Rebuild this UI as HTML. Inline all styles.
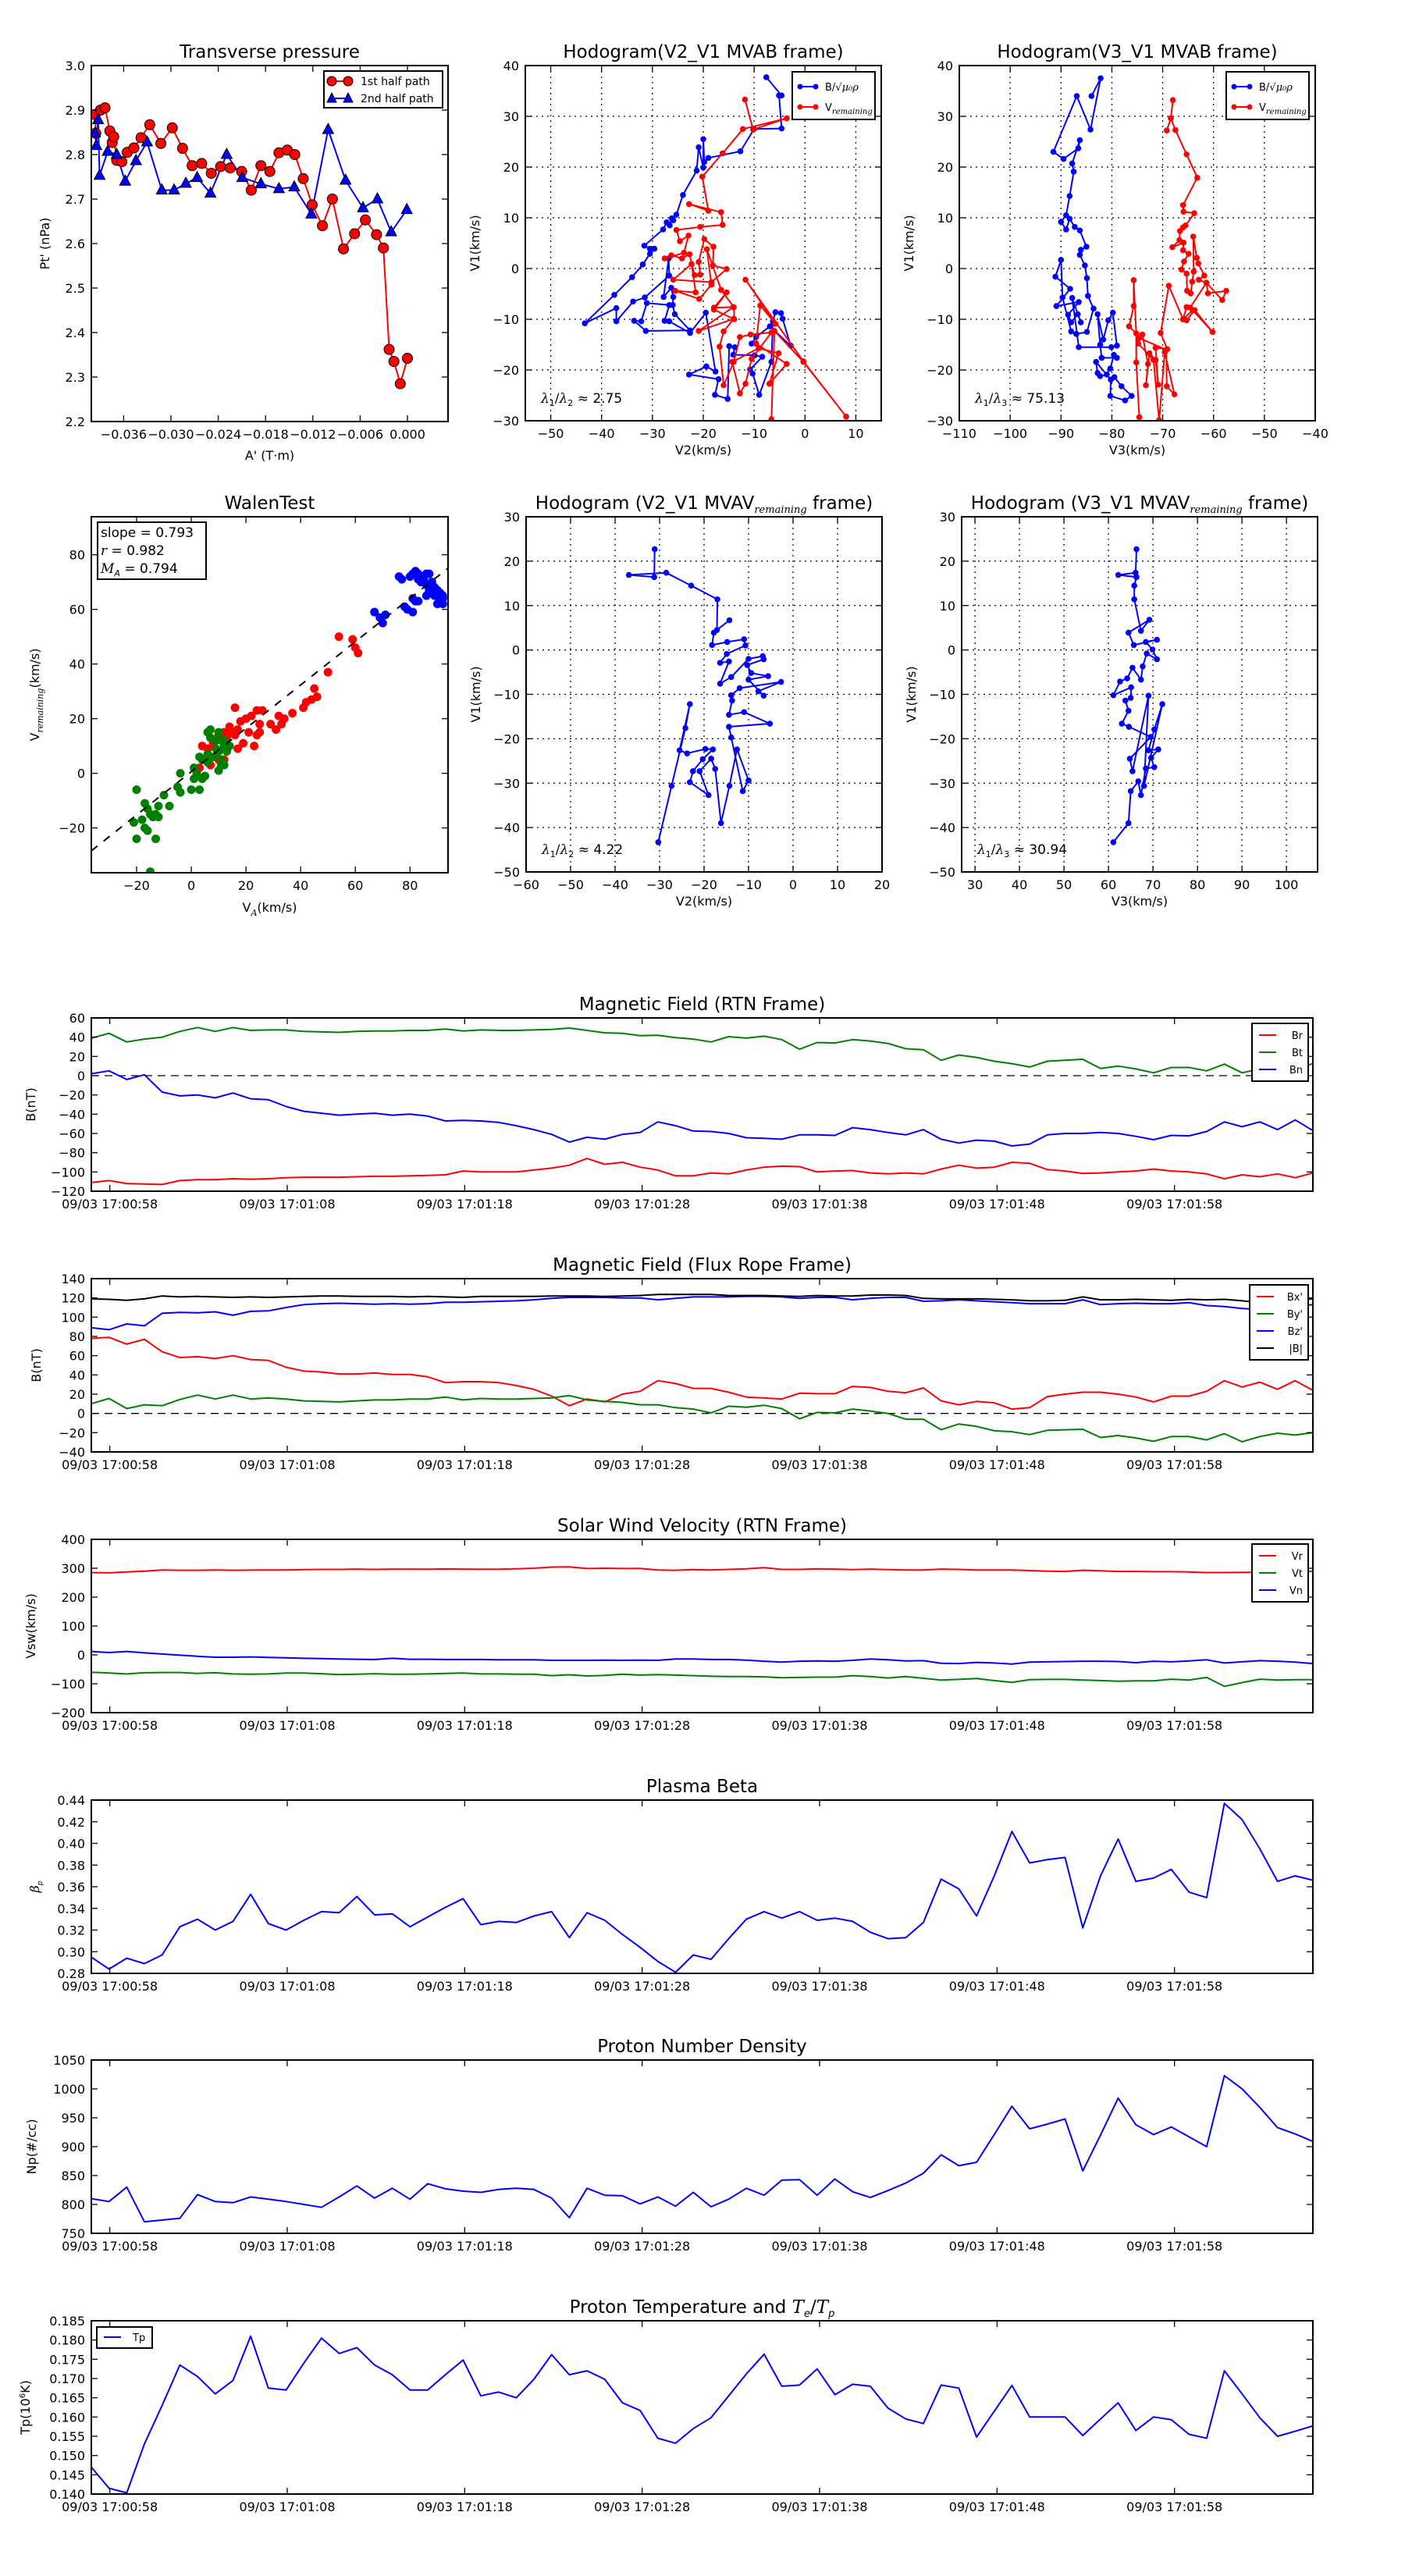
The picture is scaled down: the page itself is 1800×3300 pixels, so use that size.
<!DOCTYPE html>
<html><head><meta charset="utf-8"><title>Flux rope analysis</title>
<style>
html,body{margin:0;padding:0;background:#fff;}
svg{display:block;font-family:"DejaVu Sans","Liberation Sans",sans-serif;}
</style></head>
<body>
<svg id="figure" xmlns="http://www.w3.org/2000/svg" width="1800" height="3300" viewBox="0 0 1800 3300">
<rect x="0" y="0" width="1800" height="3300" fill="#fff"/>
</svg>
<script>
// ---------------- DATA ----------------
// Transverse pressure
const tpRedA=[-0.03954,-0.03962,-0.03893,-0.03836,-0.03775,-0.03745,-0.03726,-0.03688,-0.03623,-0.03554,-0.03470,-0.03379,-0.03269,-0.03128,-0.02983,-0.02853,-0.02731,-0.02610,-0.02488,-0.02370,-0.02248,-0.02103,-0.01981,-0.01859,-0.01745,-0.01630,-0.01524,-0.01429,-0.01322,-0.01208,-0.01078,-0.00952,-0.00811,-0.00670,-0.00533,-0.00392,-0.00305,-0.00232,-0.00171,-0.00091,0.0];
const tpRedP=[2.848,2.890,2.900,2.905,2.853,2.827,2.840,2.787,2.784,2.805,2.815,2.838,2.867,2.825,2.860,2.814,2.775,2.780,2.758,2.773,2.770,2.762,2.720,2.775,2.762,2.804,2.810,2.800,2.746,2.687,2.640,2.700,2.588,2.622,2.653,2.620,2.590,2.362,2.335,2.285,2.342];
const tpBlueA=[-0.03962,-0.03947,-0.03924,-0.03905,-0.03802,-0.03688,-0.03581,-0.03444,-0.03303,-0.03116,-0.02960,-0.02811,-0.02667,-0.02499,-0.02293,-0.02095,-0.01859,-0.01630,-0.01436,-0.01219,-0.01006,-0.00785,-0.00564,-0.00381,-0.00206,-0.00008];
const tpBlueP=[2.848,2.820,2.878,2.753,2.807,2.800,2.740,2.786,2.828,2.720,2.720,2.735,2.748,2.713,2.800,2.748,2.734,2.723,2.727,2.666,2.856,2.742,2.680,2.700,2.626,2.676];

// Hodogram V2_V1 MVAB
const h1Blue=[[-7.6,37.7],[-4.6,34.1],[-5.1,34.1],[-4.6,27.6],[-10,27.5],[-12.7,23.1],[-19,21.8],[-19.8,21],[-20,25.5],[-20,19.9],[-20.9,23.9],[-21.3,19.3],[-24,14.5],[-25.3,10.6],[-25.9,9.5],[-26.2,9.9],[-26.6,8.5],[-27.2,9.1],[-27.9,7.7],[-31.6,4.5],[-30.5,3.9],[-29.6,3.9],[-30.5,2.9],[-31.9,0.8],[-34,-1.7],[-37.5,-5.2],[-43.3,-10.8],[-37.1,-7.8],[-37.1,-10.4],[-33.8,-6.5],[-31.5,-5.7],[-26.7,-1.4],[-26.8,2],[-27.8,-5.6],[-26.3,-3.8],[-25.9,-5.6],[-26,-7.2],[-25.6,-9],[-22.6,-12.2],[-31.3,-12.3],[-33.6,-10.3],[-32.2,-10.4],[-31.1,-6.8],[-26.7,-7.2],[-27.6,-10.3],[-26.7,-10.4],[-22.6,-12.7],[-19.5,-8.7],[-17.6,-20.3],[-19.4,-19.3],[-22.8,-20.9],[-17,-21.8],[-17.7,-24.9],[-15.2,-25.7],[-14.9,-15.3],[-13.8,-15.5],[-14.1,-17],[-9.9,-17.1],[-8.4,-17.4],[-10.8,-19.9],[-10.3,-20.7],[-9,-24.9],[-6.6,-18.4],[-6.3,-10.4],[-5.8,-8.6],[-4.7,-8.8],[-4.4,-9.9],[-2.8,-15.2],[-6.9,-11.4],[-9.6,-13.5],[-10.5,-14.8]];
const h1Red=[[-11.8,33.3],[-10.2,27.4],[-3.6,29.6],[-12.2,27.5],[-16.2,22.7],[-20.2,18.1],[-19,11.4],[-22.8,12.7],[-16.5,11.1],[-16.2,8.6],[-20.6,8.2],[-25.3,7.6],[-24.6,5.4],[-22.9,6.5],[-23.8,3.1],[-27.6,2],[-26.3,2.6],[-24.2,2],[-22.7,2.8],[-21.7,-1.3],[-20.6,-1.2],[-20.9,1.3],[-19.8,5.8],[-18,4.3],[-18.1,0.6],[-15.4,-0.1],[-18.4,-2.7],[-25.9,-2.2],[-22.3,0.9],[-21.5,-4.7],[-25.5,-4.4],[-20.8,-6],[-18.4,-3.2],[-19.3,3.8],[-16.5,-4.2],[-14,-7.6],[-13.9,-10],[-17.9,-8.1],[-15.4,-4.7],[-17.9,-7.7],[-14.1,-7.6],[-20.9,-12.3],[-14,-9.9],[-16,-12.4],[-16.8,-15.4],[-16,-23],[-14,-18.4],[-12.8,-13.5],[-10.7,-13],[-6.6,-12.6],[-10.5,-17.8],[-11.7,-22.7],[-12.8,-24.6],[-14.3,-18.4],[-9.1,-15.7],[-5.2,-16.7],[-7,-22.7],[-3.6,-18.8],[-9.6,-14.8],[-8.8,-7.3],[-5.8,-10.9],[-11.7,-2.2],[-0.3,-18.3],[8.1,-29.2],[-0.3,-18.4],[-6,-12.3],[-6.6,-29.7]];

// Hodogram V3_V1 MVAB
const h2Blue=[[-84,34],[-82.2,37.5],[-84.2,27.4],[-86.9,34],[-91.5,23],[-89.5,21.6],[-86.6,23.7],[-86.3,25.3],[-87.8,20.7],[-87.5,19.1],[-88.3,14.3],[-89,10.5],[-90,9.2],[-89,7.7],[-88.3,9.8],[-87.3,8.2],[-86.3,7.5],[-85,4.3],[-86.1,3.7],[-86.3,2.7],[-85.3,0.6],[-84.9,-1.9],[-84.7,-5.4],[-83.6,-7.9],[-84.9,-12.5],[-87,-12.9],[-88,-12.4],[-89.7,-5.7],[-90,1.7],[-91.1,-1.6],[-88.2,-4],[-90.9,-7.4],[-86.5,-6.6],[-88.6,-9.1],[-88,-10.6],[-86.7,-9],[-86.1,-10.6],[-87.8,-5.8],[-86.5,-15.5],[-80.1,-15.5],[-79,-15.2],[-79.8,-8.7],[-80.7,-10.2],[-81.7,-14],[-82.8,-9],[-82.3,-15],[-82,-17.6],[-79,-17.6],[-79.6,-17],[-80.3,-19.7],[-81,-20.9],[-82.3,-21.2],[-82.8,-20.6],[-83.1,-18.4],[-80.2,-21.9],[-80.3,-25.1],[-77.4,-26],[-76.1,-25.1],[-78.1,-23.2],[-79.5,-21.4]];
const h2Red=[[-68,33.2],[-68.4,29.6],[-69.2,27.2],[-68.4,29.6],[-67.5,27.3],[-65.3,22.5],[-63.2,17.9],[-66,12.5],[-65.9,11.2],[-63.8,10.9],[-65.5,8.5],[-66,8.1],[-66.6,7.4],[-66.7,5.6],[-68.1,4.2],[-65.9,5.1],[-66,3.6],[-64.9,2.9],[-65.8,1.4],[-66.3,-0.2],[-65.3,-1],[-65.2,-4.4],[-64.5,-4.9],[-64.2,-2.6],[-63.9,-0.6],[-64,6.3],[-63.3,2.1],[-63,1],[-61.8,-1.4],[-62.9,-2.2],[-61.4,-2.8],[-61.1,-4.9],[-57.5,-4.4],[-58.3,-6.2],[-61.4,-2.8],[-64.6,-7.7],[-65.3,-7.6],[-66,-10],[-65.3,-10.2],[-63.7,-8.2],[-60.2,-12.5],[-64.1,-8.2],[-66,-10],[-68.8,-3.4],[-70.4,-12.7],[-69.1,-15.9],[-71.4,-15.6],[-70.9,-22.9],[-71.4,-18],[-72.6,-16.7],[-73.3,-23],[-72.9,-18.8],[-74,-13],[-74.6,-13.7],[-69.3,-16],[-69.2,-23.2],[-67.7,-24.8],[-69.6,-16.5],[-70.7,-29.9],[-71.8,-18],[-74.8,-14.8],[-75.2,-12.8],[-76.6,-11.4],[-75.7,-7.4],[-75.7,-2.3],[-75.2,-12.8],[-75.2,-18.5],[-74.6,-29.3]];

// Walen test
const walenBlue=[[80,72],[81,73],[82,74],[83,73],[84,72],[85,72],[86,73],[83,71],[84,70],[85,71],[88,70],[89,68],[90,67],[91,66],[92,65],[87,67],[88,66],[86,65],[89,65],[91,63],[92,64],[90,62],[92,62],[81,64],[82,63],[79,60],[81,59],[83,63],[77,71],[67,59],[71,58],[69,57],[70,55],[78,61],[86,69],[76,72],[87,73]];
const walenRed=[[54,50],[59,49],[60,46],[61,44],[50,37],[45,31],[46,28],[44,27],[42,26],[41,24],[37,22],[32,21],[34,20],[33,18],[31,16],[29,18],[26,23],[24,23],[22,21],[20,20],[18,19],[16,24],[17,16],[16,14],[14,17],[12,15],[10,14],[11,12],[8,11],[4,10],[6,9],[10,5],[12,5],[7,3],[3,2],[17,9],[19,11],[21,15],[23,10],[25,18],[25,15],[24,14],[15,15],[13,13]];
const walenGreen=[[-20,-6],[-17,-11],[-16,-13],[-15,-15],[-18,-17],[-12,-12],[-12,-16],[-14,-16],[-10,-8],[-8,-12],[-5,-5],[-4,-7],[-4,0],[-0,-6],[1,-2],[1,2],[3,-6],[4,-2],[5,-1],[3,6],[4,5],[6,7],[6,15],[7,16],[7,13],[9,12],[10,15],[11,12],[12,10],[10,8],[8,6],[6,4],[11,3],[10,1],[12,3],[14,10],[13,8],[-21,-18],[-20,-24],[-17,-20],[-16,-21],[-13,-24],[-15,-36],[-13,-15],[9,9],[12,12],[11,5],[2,0]];
const walenSlope=0.793;
const walenIntercept=0.6;

// Hodogram V2_V1 MVAV
const h3Blue=[[-30.3,-43.3],[-27.3,-30.6],[-24.2,-17.6],[-23.2,-12.2],[-25.5,-22.6],[-23.8,-23.3],[-19.7,-22.3],[-18,-22.4],[-20.3,-24.6],[-22.5,-27.3],[-23.2,-29.8],[-19,-32.7],[-21,-27.3],[-18.4,-24.5],[-17.5,-26.8],[-16.2,-39],[-14.3,-30.6],[-12.6,-22.4],[-10,-29.4],[-11.3,-31.8],[-13.9,-19.7],[-14.4,-17.3],[-5.2,-16.6],[-11,-14],[-14.4,-14.6],[-13.7,-11.4],[-13.9,-10.2],[-12,-8.6],[-2.7,-7.2],[-7.8,-9.3],[-6.6,-10.3],[-10,-6.7],[-5.6,-5.9],[-9.4,-5.2],[-10.3,-3.4],[-6.6,-2.1],[-6.8,-1.4],[-10,-2],[-13.9,-6.1],[-16.4,-7.6],[-14.4,-2.6],[-16.4,-2.9],[-14.9,-0.9],[-10.7,1],[-11,2.4],[-14.8,1.8],[-18.2,1.1],[-17.8,3.9],[-14.3,6.7],[-17.1,4.5],[-17,11.4],[-22.9,14.5],[-28.5,17.4],[-36.9,16.9],[-31.2,16.4],[-31.1,22.7]];
// Hodogram V3_V1 MVAV
const h4Blue=[[61.1,-43.3],[64.5,-39],[65,-31.8],[66.7,-29.6],[67.3,-32.7],[68.4,-26.7],[70.3,-26.4],[69.6,-24.3],[71.2,-22.4],[69,-22.6],[70.3,-17.9],[72.1,-12.2],[68,-30.6],[69,-10.3],[65.4,-27.3],[64.8,-24.5],[69.5,-19.6],[64.6,-17.3],[63,-16.6],[64.5,-13.7],[63.8,-11.4],[65,-10.8],[65.1,-8.4],[61.1,-10.2],[62.6,-7.1],[64.2,-6.4],[65.4,-4],[67.3,-6.7],[67.7,-3.7],[68.6,-0.8],[70.9,-2.1],[69.9,0.1],[68.4,1.8],[70.9,2.3],[65.7,1.1],[64.5,3.9],[69.2,6.8],[67.3,4.3],[65.8,11.4],[65.8,14.5],[66.3,16.4],[62.2,16.9],[66.1,17.4],[66.3,22.7]];

// Time series (1 s cadence, 70 samples)
const tickLabels=["09/03 17:00:58","09/03 17:01:08","09/03 17:01:18","09/03 17:01:28","09/03 17:01:38","09/03 17:01:48","09/03 17:01:58"];
const tickSeconds=[0,10,20,30,40,50,60];
const Br=[-111,-109,-112,-112.5,-113,-109,-108,-108,-107,-107.5,-107,-106,-105.5,-105.5,-105.5,-105,-104.5,-104.5,-104,-103.5,-103,-99,-100,-100,-100,-98,-96,-93,-86,-92,-90,-95,-98,-104,-104,-101,-102,-98,-95,-94,-94.5,-100,-99,-98.5,-101,-102,-101,-102,-97,-93,-96,-95,-90,-91,-97.5,-99,-101.5,-101,-100,-99,-97,-99,-100,-102,-107,-103,-105,-102,-106,-101];
const Bt=[39,44,35,38,40,46,50,46,50,47,47.5,47.5,46,45.5,45,46,46.5,46.5,47,47,48.5,46.5,47.5,47,47,47.5,48,49.5,47,44.5,44,41.5,42,39.5,38,35,40.5,39,41,37.5,27.5,34.5,34,37.5,36,33.5,28,27,16,21.5,19,15,12.5,9,15,16,17,7.5,10,7,3,8.5,8.5,5,12,3,7,10,4,13];
const Bn=[2,5,-4,1,-17,-21,-20,-23,-18,-24,-25,-32,-37,-39,-41,-40,-39,-41,-40,-42,-47,-46.5,-47,-48.5,-52,-56,-61,-69,-64,-66,-61,-59,-48,-52,-57.5,-58,-60,-64.5,-65,-66,-61.5,-61.5,-62,-54,-56,-59,-61.5,-56,-66,-70,-67,-68,-73,-71,-61.5,-60,-60,-59,-60,-63,-66.5,-62,-62.5,-58,-48,-53,-48,-56,-46,-57];
const Bx=[78,79,72,77,64,58,59,57,60,56,55,48,44,43,41,41,42,40.5,40.5,38,32,33,33,32,29,25,18,8,15,12,20,23,34,31,26,26,22,17,16,15,21,20.5,20.5,28,27,23,21.5,26.5,13,9,12.5,11,4.5,6,17.5,20,22,22,20,17,12,18,18,23,34,27.5,32.5,25,34,24];
const By=[10,15.5,5,9,8,14.5,19,15,19,15,16,15,13,12.5,12,13,14,14,15,15,17,14,15.5,15,15,15.5,16,18.5,14,12.5,11.5,9,9,6,4.5,0.5,7.5,6.5,8.5,5,-5.5,1,0.5,4.5,2.5,0,-6,-6,-17,-11,-13.5,-18,-19,-22,-17.5,-17,-16.5,-25,-23,-25.5,-29,-24,-24,-27.5,-21,-29.5,-24,-20.5,-22.5,-20];
const Bz=[89,87,93,91,104,105,104.5,105.5,102,106,106.5,110,113,114,114.5,114,113.5,114,113.5,114,115.5,115.5,116,116.5,117,118,119.5,120.5,120.5,120.5,120,120,118,119.5,121,121,121,121.5,121.5,121,119.5,120.5,120.5,118,119.5,120.5,120.5,116.5,117,118,117,116,115,114,114,114,118,113,114,114.5,114,114,115,112,111,109,108,110,111,113];
const Bmag=[119,118.5,117.5,119,122,121,121.5,121,120.5,121,120.5,121,121.5,122,122,121.5,121.5,121.5,121,121.5,121,120.5,121.5,121.5,121.5,121.5,122,122,122,121.5,122,122.5,123.5,123.5,123.5,123.5,122.5,122.5,122.5,122,121.5,122.5,122,122,123,123,122.5,119.5,119,119,119,118.5,118,117,117,117.5,121,118,118,118.5,118,117.5,118.5,118,118.5,117,115,117,118,119];
const Vr=[285,284,287,290,294,293,293,294,293,293.5,294,294,295,296,296,297,296,297,297,296.5,297.5,297,296.5,296.5,298,300,304,305,299,300,299,299.5,294,293,295,294,296,298,302,296,296,298,297,295,297,295,294,294,297,296,294,294,294,292,290,289,293,291,289,289,288,288,287,285,285,286,286,285,286,290];
const Vt=[-60,-63,-66,-62,-61,-61,-64,-62,-66,-67,-66,-63,-63,-65,-68,-67,-65,-67,-67,-66,-64,-63,-66,-66,-67,-67,-72,-69,-73,-71,-67,-70,-68,-70,-72,-74,-75,-75,-76,-79,-78,-77,-77,-72,-75,-80,-75,-81,-87,-85,-82,-89,-95,-86,-85,-85,-87,-89,-91,-90,-90,-84,-87,-78,-109,-96,-84,-87,-86,-86];
const Vn=[12,8,12,7,3,-1,-5,-8,-8,-7,-9,-10,-12,-13,-14,-15,-16,-12,-15,-15,-16,-16,-16,-17,-17,-17,-19,-19,-19,-18,-19,-18,-19,-14,-14,-16,-16,-18,-22,-25,-22,-21,-22,-19,-14,-17,-21,-20,-29,-30,-26,-28,-32,-25,-24,-23,-22,-22,-23,-27,-22,-24,-21,-17,-28,-24,-20,-22,-25,-30];
const beta=[0.295,0.284,0.294,0.289,0.297,0.323,0.330,0.320,0.328,0.353,0.326,0.320,0.329,0.337,0.336,0.351,0.334,0.335,0.323,0.332,0.341,0.349,0.325,0.328,0.327,0.333,0.337,0.313,0.336,0.329,0.316,0.304,0.291,0.281,0.297,0.293,0.312,0.330,0.337,0.331,0.337,0.329,0.331,0.328,0.318,0.312,0.313,0.327,0.367,0.358,0.333,0.370,0.411,0.382,0.385,0.387,0.322,0.370,0.404,0.365,0.368,0.376,0.355,0.350,0.437,0.422,0.395,0.365,0.370,0.366];
const Np=[810,805,830,770,773,776,817,805,803,813,809,805,800,795,813,832,811,828,809,836,827,823,821,826,828,826,811,777,828,816,815,801,813,797,821,796,809,828,816,842,843,816,844,822,812,824,837,854,886,867,873,921,970,931,939,948,858,920,984,938,921,934,917,900,1023,1000,968,933,922,909];
const Tp=[0.147,0.1415,0.1403,0.153,0.163,0.1735,0.1705,0.166,0.1695,0.181,0.1675,0.167,0.174,0.1805,0.1765,0.178,0.1735,0.171,0.167,0.167,0.171,0.1748,0.1655,0.1665,0.165,0.1698,0.1762,0.171,0.172,0.1698,0.1637,0.1617,0.1545,0.1532,0.157,0.1598,0.1655,0.1712,0.1763,0.168,0.1683,0.1725,0.1658,0.1685,0.168,0.1623,0.1595,0.1583,0.1683,0.1675,0.1548,0.1615,0.1682,0.160,0.160,0.160,0.1552,0.1595,0.1637,0.1565,0.160,0.1593,0.1555,0.1545,0.172,0.166,0.1598,0.155,0.1563,0.1577];
const tStart=-1.04, tStep=0.9977;

// ---------------- RENDERING ----------------
const NS='http://www.w3.org/2000/svg';
const svg=document.getElementById('figure');
function mk(tag,parent){const e=document.createElementNS(NS,tag);parent.appendChild(e);return e;}
function set(e,o){for(const k in o)e.setAttribute(k,o[k]);return e;}
function fmtNum(v,d){const s=Math.abs(v).toFixed(d);return (v<0?'\u2212':'')+s;}
let clipN=0;
function panel(name,x,y,w,h,xd,yd){
  const g=mk('g',svg);
  
  
  const id='clip'+(clipN++);
  const cp=mk('clipPath',g);cp.setAttribute('id',id);
  set(mk('rect',cp),{x:x,y:y,width:w,height:h});
  const grid=mk('g',g);
  
  
  const data=mk('g',g);data.setAttribute('clip-path','url(#'+id+')');
  
  
  const deco=mk('g',g);
  return {g,grid,data,deco,x,y,w,h,xd,yd,
    sx:v=>x+(v-xd[0])/(xd[1]-xd[0])*w,
    sy:v=>y+h-(v-yd[0])/(yd[1]-yd[0])*h};
}
function text(parent,str,x,y,size,anchor,extra){
  const t=mk('text',parent);
  set(t,{x:x,y:y,'font-size':size,'text-anchor':anchor||'middle',fill:'#000'});
  if(extra)set(t,extra);
  t.textContent=str;return t;
}
function frame(p){
  const r=mk('rect',p.deco);
  set(r,{x:p.x,y:p.y,width:p.w,height:p.h,fill:'none',stroke:'#000','stroke-width':2});
  
  
}
function xTicks(p,vals,labels,grid){
  vals.forEach((v,i)=>{
    const X=p.sx(v);
    set(mk('line',p.deco),{x1:X,x2:X,y1:p.y+p.h,y2:p.y+p.h-8,stroke:'#000','stroke-width':1.3});
    set(mk('line',p.deco),{x1:X,x2:X,y1:p.y,y2:p.y+8,stroke:'#000','stroke-width':1.3});
    if(grid)set(mk('line',p.grid),{x1:X,x2:X,y1:p.y,y2:p.y+p.h,stroke:'#000','stroke-width':1.2,'stroke-dasharray':'2,5'});
    const t=text(p.deco,labels[i],X,p.y+p.h+22,16,'middle');
    
    
  });
}
function yTicks(p,vals,labels,grid){
  vals.forEach((v,i)=>{
    const Y=p.sy(v);
    set(mk('line',p.deco),{x1:p.x,x2:p.x+8,y1:Y,y2:Y,stroke:'#000','stroke-width':1.3});
    set(mk('line',p.deco),{x1:p.x+p.w,x2:p.x+p.w-8,y1:Y,y2:Y,stroke:'#000','stroke-width':1.3});
    if(grid)set(mk('line',p.grid),{x1:p.x,x2:p.x+p.w,y1:Y,y2:Y,stroke:'#000','stroke-width':1.2,'stroke-dasharray':'2,5'});
    const t=text(p.deco,labels[i],p.x-8,Y+6,16,'end');
    
    
  });
}
function range(a,b,s){const r=[];for(let v=a;v<=b+s*1e-6;v+=s)r.push(+v.toFixed(6));return r;}
function title(p,html){
  const t=mk('text',p.deco);
  set(t,{x:p.x+p.w/2,y:p.y-10,'font-size':23,'text-anchor':'middle'});
  t.innerHTML=html;
  
  
}
function ylabel(p,html,x,size){
  const t=mk('text',p.deco);
  const cy=p.y+p.h/2;
  set(t,{x:x,y:cy,'font-size':size||16,'text-anchor':'middle',transform:'rotate(-90 '+x+' '+cy+')'});
  t.innerHTML=html;
  
  
}
function xlabel(p,html,y){
  const t=mk('text',p.deco);
  set(t,{x:p.x+p.w/2,y:y,'font-size':16,'text-anchor':'middle'});
  t.innerHTML=html;
  
  
}
function polyline(p,xs,ys,color,width,name){
  const pts=xs.map((x,i)=>p.sx(x).toFixed(1)+','+p.sy(ys[i]).toFixed(1)).join(' ');
  const l=mk('polyline',p.data);
  set(l,{points:pts,fill:'none',stroke:color,'stroke-width':width||2,'stroke-linejoin':'round'});
  
  
  return l;
}
function dots(p,pairs,color,r,name,edge){
  pairs.forEach(([a,b])=>{
    const c=mk('circle',p.data);
    set(c,{cx:p.sx(a),cy:p.sy(b),r:r,fill:color});
    if(edge)set(c,{stroke:'#000','stroke-width':1});
    
    
  });
}
function hline(p,v){
  const l=mk('line',p.data);
  set(l,{x1:p.x,x2:p.x+p.w,y1:p.sy(v),y2:p.sy(v),stroke:'#000','stroke-width':1.3,'stroke-dasharray':'10,7'});
  
  
}
const sub=s=>'<tspan font-size="13" font-style="italic" font-family="DejaVu Serif, serif" dy="5">'+s+'</tspan><tspan dy="-5"> </tspan>';

// ----- Transverse pressure -----
{
 const p=panel('transverse-pressure-chart',117,84,457,456,[-0.0401,0.00515],[2.2,3.0]);
 const xt=range(-0.036,0,0.006);
 xTicks(p,xt,xt.map(v=>fmtNum(v,3)),false);
 const yt=range(2.2,3.0,0.1);
 yTicks(p,yt,yt.map(v=>v.toFixed(1)),false);
 polyline(p,tpRedA,tpRedP,'#ff0000',2,'first-half-path-line');
 polyline(p,tpBlueA,tpBlueP,'#0000ff',2,'second-half-path-line');
 tpRedA.forEach((a,i)=>{
   const c=mk('circle',p.data);
   set(c,{cx:p.sx(a),cy:p.sy(tpRedP[i]),r:6.5,fill:'#ff0000',stroke:'#000','stroke-width':1});
   
   
 });
 tpBlueA.forEach((a,i)=>{
   const X=p.sx(a),Y=p.sy(tpBlueP[i]);
   const t=mk('polygon',p.data);
   set(t,{points:`${X},${Y-8} ${X-7},${Y+5} ${X+7},${Y+5}`,fill:'#0000ff',stroke:'#000','stroke-width':1});
   
   
 });
 frame(p);
 title(p,'Transverse pressure');
 ylabel(p,"Pt' (nPa)",63);
 xlabel(p,"A' (T\u00b7m)",589);
 const lg=mk('g',p.deco);
 
 
 set(mk('rect',lg),{x:415,y:91,width:152,height:47,fill:'#fff',stroke:'#000','stroke-width':2});
 set(mk('line',lg),{x1:425,x2:446,y1:104,y2:104,stroke:'#ff0000','stroke-width':2});
 set(mk('circle',lg),{cx:425,cy:104,r:6,fill:'#ff0000',stroke:'#000'});
 set(mk('circle',lg),{cx:446,cy:104,r:6,fill:'#ff0000',stroke:'#000'});
 set(mk('line',lg),{x1:425,x2:446,y1:126,y2:126,stroke:'#0000ff','stroke-width':2});
 set(mk('polygon',lg),{points:'425,119 419,131 431,131',fill:'#0000ff',stroke:'#000'});
 set(mk('polygon',lg),{points:'446,119 440,131 452,131',fill:'#0000ff',stroke:'#000'});
 const e1=text(lg,'1st half path',462,109,14,'start');
 
 
 const e2=text(lg,'2nd half path',462,131,14,'start');
 
 
}

// ----- hodogram helper -----
function hodo(name,x,y,xd,yd,xt,yt,ttl,xl,lam,series,legend){
 const p=panel(name,x,y,456,455,xd,yd);
 xTicks(p,xt,xt.map(v=>fmtNum(v,0)),true);
 yTicks(p,yt,yt.map(v=>fmtNum(v,0)),true);
 series.forEach(s=>{
   polyline(p,s.d.map(q=>q[0]),s.d.map(q=>q[1]),s.c,2,s.n+'-line');
   dots(p,s.d,s.c,3.8,s.n+'-point',false);
 });
 frame(p);
 title(p,ttl);
 ylabel(p,'V1(km/s)',x-59);
 xlabel(p,xl,y+498);
 const t=mk('text',p.deco);
 set(t,{x:x+20,y:y+432,'font-size':17});
 t.innerHTML=lam;
 
 
 if(legend){
  const lg=mk('g',p.deco);
  
  
  const lx=x+p.w-114;
  set(mk('rect',lg),{x:lx,y:y+8,width:106,height:61,fill:'#fff',stroke:'#000','stroke-width':2});
  [['#0000ff','B/\u221a<tspan font-style="italic" font-family="DejaVu Serif, serif">\u03bc\u2080\u03c1</tspan>',27],['#ff0000','V'+'<tspan font-size="10" font-style="italic" font-family="DejaVu Serif, serif" dy="4">remaining</tspan>',53]].forEach(([c,lab,dy])=>{
    set(mk('line',lg),{x1:lx+10,x2:lx+30,y1:y+dy,y2:y+dy,stroke:c,'stroke-width':2});
    set(mk('circle',lg),{cx:lx+10,cy:y+dy,r:3.5,fill:c});
    set(mk('circle',lg),{cx:lx+30,cy:y+dy,r:3.5,fill:c});
    const tt=mk('text',lg);set(tt,{x:lx+42,y:y+dy+5,'font-size':13});tt.innerHTML=lab;
    
    
  });
 }
}
const lamHTML=(a,b,v)=>'<tspan font-style="italic" font-family="DejaVu Serif, serif">\u03bb</tspan><tspan font-size="11" dy="4">'+a+'</tspan><tspan dy="-4" font-family="DejaVu Serif, serif">/</tspan><tspan font-style="italic" font-family="DejaVu Serif, serif">\u03bb</tspan><tspan font-size="11" dy="4">'+b+'</tspan><tspan dy="-4"> \u2248 '+v+'</tspan>';

hodo('hodogram-v2-v1-mvab',673,84,[-55,15],[-30,40],range(-50,10,10),range(-30,40,10),'Hodogram(V2_V1 MVAB frame)','V2(km/s)',lamHTML('1','2','2.75'),
 [{d:h1Blue,c:'#0000ff',n:'b-alfven'},{d:h1Red,c:'#ff0000',n:'v-remaining'}],true);
hodo('hodogram-v3-v1-mvab',1229,84,[-110,-40],[-30,40],range(-110,-40,10),range(-30,40,10),'Hodogram(V3_V1 MVAB frame)','V3(km/s)',lamHTML('1','3','75.13'),
 [{d:h2Blue,c:'#0000ff',n:'b-alfven'},{d:h2Red,c:'#ff0000',n:'v-remaining'}],true);
hodo('hodogram-v2-v1-mvav',674,662,[-60,20],[-50,30],range(-60,20,10),range(-50,30,10),'Hodogram (V2_V1 MVAV'+sub('remaining')+'frame)','V2(km/s)',lamHTML('1','2','4.22'),
 [{d:h3Blue,c:'#0000ff',n:'b-alfven'}],false);
hodo('hodogram-v3-v1-mvav',1232,662,[27,107],[-50,30],range(30,100,10),range(-50,30,10),'Hodogram (V3_V1 MVAV'+sub('remaining')+'frame)','V3(km/s)',lamHTML('1','3','30.94'),
 [{d:h4Blue,c:'#0000ff',n:'b-alfven'}],false);

// ----- Walen test -----
{
 const p=panel('walen-test-chart',117,662,457,456,[-36.55,93.9],[-36.4,93.9]);
 const t=range(-20,80,20);
 xTicks(p,t,t.map(v=>fmtNum(v,0)),false);
 yTicks(p,t,t.map(v=>fmtNum(v,0)),false);
 dots(p,walenBlue,'#0000ff',5.5,'walen-point-blue',false);
 dots(p,walenRed,'#ff0000',5.5,'walen-point-red',false);
 dots(p,walenGreen,'#008000',5.5,'walen-point-green',false);
 const fx=[-36.55,93.9];
 const l=mk('line',p.data);
 set(l,{x1:p.sx(fx[0]),y1:p.sy(walenSlope*fx[0]+walenIntercept),x2:p.sx(fx[1]),y2:p.sy(walenSlope*fx[1]+walenIntercept),stroke:'#000','stroke-width':2,'stroke-dasharray':'10,10'});
 
 
 frame(p);
 title(p,'WalenTest');
 ylabel(p,'V<tspan font-size="11" font-style="italic" font-family="DejaVu Serif, serif" dy="5">remaining</tspan><tspan dy="-5">(km/s)</tspan>',50);
 xlabel(p,'V<tspan font-size="11" font-style="italic" font-family="DejaVu Serif, serif" dy="5">A</tspan><tspan dy="-5">(km/s)</tspan>',1168);
 const bx=mk('g',p.deco);
 
 
 set(mk('rect',bx),{x:125,y:669,width:139,height:73,fill:'#fff',stroke:'#000','stroke-width':2});
 text(bx,'slope = 0.793',129,688,17,'start');
 const r2=mk('text',bx);set(r2,{x:129,y:711,'font-size':17});r2.innerHTML='<tspan font-style="italic" font-family="DejaVu Serif, serif">r</tspan> = 0.982';
 const r3=mk('text',bx);set(r3,{x:129,y:734,'font-size':17});r3.innerHTML='<tspan font-style="italic" font-family="DejaVu Serif, serif">M</tspan><tspan font-size="11" font-style="italic" dy="4">A</tspan><tspan dy="-4"> = 0.794</tspan>';
}

// ----- Time series -----
const TX=117,TW=1565,TH=222;
const tDom=[-1.04,67.8];
function tsPanel(name,y,yd,yt,ytl,ttl,yl,ylx){
 const p=panel(name,TX,y,TW,TH,tDom,yd);
 xTicks(p,tickSeconds,tickLabels,false);
 yTicks(p,yt,ytl,false);
 title(p,ttl);
 ylabel(p,yl,ylx);
 return p;
}
function tsLine(p,vals,color,name){
 const ts=vals.map((v,i)=>tStart+i*tStep);
 polyline(p,ts,vals,color,2,name);
}
function tsLegend(p,x,y,w,entries){
 const lg=mk('g',p.deco);
 
 
 const h=entries.length*22+8;
 set(mk('rect',lg),{x:x,y:y,width:w,height:h,fill:'#fff',stroke:'#000','stroke-width':2});
 entries.forEach(([c,lab],i)=>{
   const yy=y+15+i*22;
   set(mk('line',lg),{x1:x+9,x2:x+31,y1:yy,y2:yy,stroke:c,'stroke-width':2});
   const t=text(lg,lab,x+w-7,yy+5,13,'end');
   
   
 });
}
{
 const yt=range(-120,60,20);
 const p=tsPanel('magnetic-field-rtn-chart',1304,[-120,60],yt,yt.map(v=>fmtNum(v,0)),'Magnetic Field (RTN Frame)','B(nT)',45);
 hline(p,0);
 tsLine(p,Br,'#ff0000','br-line');tsLine(p,Bt,'#008000','bt-line');tsLine(p,Bn,'#0000ff','bn-line');
 frame(p);
 tsLegend(p,1604,1311,72,[['#ff0000','Br'],['#008000','Bt'],['#0000ff','Bn']]);
}
{
 const yt=range(-40,140,20);
 const p=tsPanel('magnetic-field-flux-rope-chart',1638,[-40,140],yt,yt.map(v=>fmtNum(v,0)),'Magnetic Field (Flux Rope Frame)','B(nT)',52);
 hline(p,0);
 tsLine(p,Bx,'#ff0000','bx-line');tsLine(p,By,'#008000','by-line');tsLine(p,Bz,'#0000ff','bz-line');tsLine(p,Bmag,'#000000','bmag-line');
 frame(p);
 tsLegend(p,1601,1646,75,[['#ff0000',"Bx'"],['#008000',"By'"],['#0000ff',"Bz'"],['#000000','|B|']]);
}
{
 const yt=range(-200,400,100);
 const p=tsPanel('solar-wind-velocity-chart',1972,[-200,400],yt,yt.map(v=>fmtNum(v,0)),'Solar Wind Velocity (RTN Frame)','Vsw(km/s)',45);
 tsLine(p,Vr,'#ff0000','vr-line');tsLine(p,Vt,'#008000','vt-line');tsLine(p,Vn,'#0000ff','vn-line');
 frame(p);
 tsLegend(p,1604,1978,72,[['#ff0000','Vr'],['#008000','Vt'],['#0000ff','Vn']]);
}
{
 const yt=range(0.28,0.44,0.02);
 const p=tsPanel('plasma-beta-chart',2306,[0.28,0.44],yt,yt.map(v=>v.toFixed(2)),'Plasma Beta','<tspan font-style="italic" font-family="DejaVu Serif, serif">\u03b2</tspan><tspan font-size="9" font-style="italic" dy="4">p</tspan>',50);
 tsLine(p,beta,'#0000ff','beta-line');
 frame(p);
}
{
 const yt=range(750,1050,50);
 const p=tsPanel('proton-density-chart',2639,[750,1050],yt,yt.map(v=>v.toFixed(0)),'Proton Number Density','Np(#/cc)',46);
 tsLine(p,Np,'#0000ff','np-line');
 frame(p);
}
{
 const yt=range(0.14,0.185,0.005);
 const p=tsPanel('proton-temperature-chart',2973,[0.14,0.185],yt,yt.map(v=>v.toFixed(3)),'Proton Temperature and <tspan font-style="italic" font-family="DejaVu Serif, serif">T</tspan><tspan font-size="13" font-style="italic" dy="5">e</tspan><tspan dy="-5" font-family="DejaVu Serif, serif">/</tspan><tspan font-style="italic" font-family="DejaVu Serif, serif">T</tspan><tspan font-size="13" font-style="italic" dy="5">p</tspan>','Tp(10<tspan font-size="10" dy="-6">6</tspan><tspan dy="6">K)</tspan>',38);
 tsLine(p,Tp,'#0000ff','tp-line');
 frame(p);
 const lg=mk('g',p.deco);
 
 
 set(mk('rect',lg),{x:124,y:2981,width:71,height:27,fill:'#fff',stroke:'#000','stroke-width':2});
 set(mk('line',lg),{x1:133,x2:155,y1:2994,y2:2994,stroke:'#0000ff','stroke-width':2});
 const t=text(lg,'Tp',170,2999,13,'start');
 
 
}
</script>
</body></html>
